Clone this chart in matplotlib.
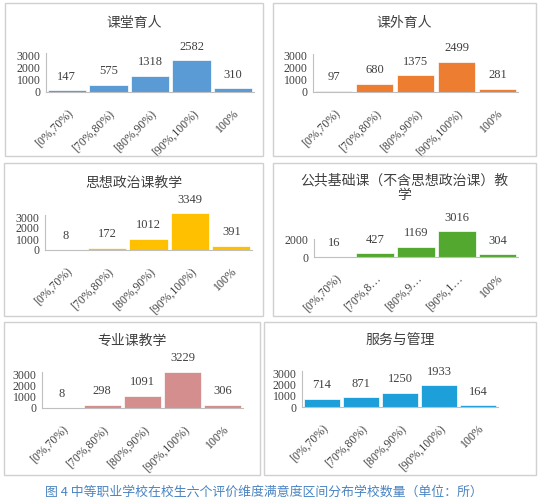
import matplotlib
matplotlib.use('Agg')
import matplotlib.pyplot as plt
from matplotlib.patches import Rectangle

# data
categories = ["[0%,70%)", "[70%,80%)", "[80%,90%)", "[90%,100%)", "100%"]
categories_short = ["[0%,70%)", "[70%,8…", "[80%,9…", "[90%,1…", "100%"]

titles = ["课堂育人", "课外育人", "思想政治课教学",
          "公共基础课（不含思想政治课）教\n学", "专业课教学", "服务与管理"]
v_class = [147, 575, 1318, 2582, 310]
v_extra = [97, 680, 1375, 2499, 281]
v_politics = [8, 172, 1012, 3349, 391]
v_basic = [16, 427, 1169, 3016, 304]
v_major = [8, 298, 1091, 3229, 306]
v_service = [714, 871, 1250, 1933, 164]
values = [v_class, v_extra, v_politics, v_basic, v_major, v_service]
yticks = [[0, 1000, 2000, 3000]] * 3 + [[0, 2000]] + [[0, 1000, 2000, 3000]] * 2
colors = ["#5B9BD5", "#ED7D31", "#FFC000", "#53A82F", "#D48E8D", "#1D9FDA"]
caption = "图 4 中等职业学校在校生六个评价维度满意度区间分布学校数量（单位：所）"

W, H = 543, 500
fig = plt.figure(figsize=(W / 100, H / 100), dpi=100)
fig.patch.set_facecolor('white')

CJK = ['Noto Sans CJK SC', 'DejaVu Sans']
SERIF = ['Liberation Serif', 'DejaVu Serif']

# panel boxes (px): x0, y0, x1, y1
panels = [(5, 3, 263, 156), (273, 3, 536, 156),
          (4, 163, 263, 316), (273, 163, 536, 316),
          (4, 322, 260, 475), (264, 322, 536, 475)]
# axes placement (px): left, right, baseline y, px per 1000
axes_px = [(46, 254, 92, 12.3), (313, 518, 92, 12.0),
           (45, 252, 250, 11.0), (314, 518, 257, 8.5),
           (42, 243, 408, 11.3), (302, 498, 407, 11.3)]
title_y = [23, 23, 183, 188, 341, 341]


def fx(px):
    return px / W


def fy(py):
    return 1 - py / H


for i in range(6):
    x0, y0, x1, y1 = panels[i]
    fig.patches.append(Rectangle((fx(x0), fy(y1)), fx(x1 - x0), (y1 - y0) / H,
                                 transform=fig.transFigure, fill=False,
                                 edgecolor='#D0D0D0', linewidth=1.0))
    fig.text(fx((x0 + x1) / 2), fy(title_y[i]), titles[i], family=CJK,
             fontsize=10, color='#404040', ha='center', va='center',
             linespacing=1.05)

    left, right, base, scale = axes_px[i]
    ymax = 4000
    h = ymax / 1000 * scale
    ax = fig.add_axes([fx(left), fy(base), fx(right - left), h / H])
    ax.set_xlim(-0.5, 4.5)
    ax.set_ylim(0, ymax)
    ax.patch.set_alpha(0)
    bars = ax.bar(range(5), values[i], width=0.92, color=colors[i],
                  edgecolor='white', linewidth=0.5)
    for b, v in zip(bars, values[i]):
        ax.annotate(str(v), (b.get_x() + b.get_width() / 2, v),
                    xytext=(0, 5.5), textcoords='offset points',
                    ha='center', va='bottom', fontsize=9,
                    family=SERIF, color='#404040', annotation_clip=False)
    for s in ['top', 'right']:
        ax.spines[s].set_visible(False)
    ax.spines['left'].set_color('#BFBFBF')
    ax.spines['bottom'].set_color('#BFBFBF')
    ax.spines['left'].set_bounds(0, yticks[i][-1] + 150)
    ax.set_yticks(yticks[i])
    ax.set_yticklabels([str(t) for t in yticks[i]], family=SERIF,
                       fontsize=8.5, color='#404040')
    ax.tick_params(axis='y', length=0, pad=4)
    ax.set_xticks(range(5))
    labels = categories_short if i == 3 else categories
    ax.set_xticklabels(labels, rotation=45, ha='right',
                       rotation_mode='anchor', family=SERIF, fontsize=8.5,
                       color='#404040')
    ax.tick_params(axis='x', length=0, pad=11)

fig.text(fx(264), fy(492), caption, family=CJK, fontsize=9.3,
         color='#4A84C2', ha='center', va='center')

fig.savefig('out.png', dpi=100)
